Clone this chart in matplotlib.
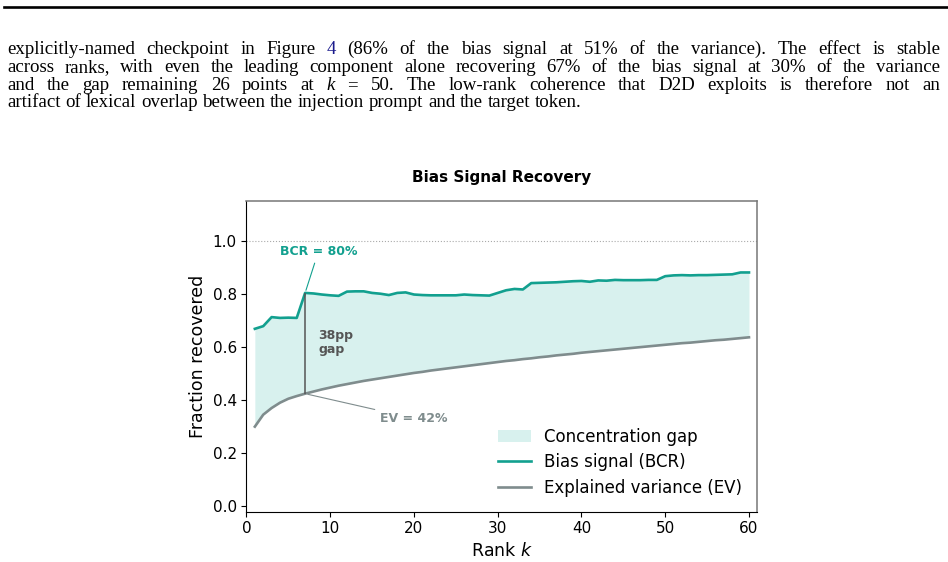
import matplotlib
matplotlib.use("Agg")
import matplotlib.pyplot as plt
from matplotlib.lines import Line2D

# ---------------------------------------------------------------------
# Data
# ---------------------------------------------------------------------
rank_k = list(range(1, 61))

bcr = [0.668, 0.678, 0.712, 0.709, 0.710, 0.709, 0.803, 0.801, 0.797, 0.794,
       0.792, 0.808, 0.809, 0.809, 0.803, 0.800, 0.795, 0.803, 0.805, 0.797,
       0.795, 0.794, 0.794, 0.794, 0.794, 0.797, 0.795, 0.794, 0.793, 0.803,
       0.813, 0.818, 0.816, 0.840, 0.841, 0.842, 0.843, 0.845, 0.847, 0.848,
       0.845, 0.850, 0.849, 0.852, 0.851, 0.851, 0.851, 0.852, 0.852, 0.866,
       0.869, 0.870, 0.869, 0.870, 0.870, 0.871, 0.872, 0.873, 0.880, 0.880]

ev = [0.300, 0.345, 0.370, 0.390, 0.405, 0.415, 0.424, 0.432, 0.440, 0.447,
      0.454, 0.460, 0.466, 0.472, 0.477, 0.482, 0.487, 0.492, 0.497, 0.502,
      0.506, 0.511, 0.515, 0.519, 0.523, 0.527, 0.531, 0.535, 0.539, 0.543,
      0.547, 0.550, 0.554, 0.557, 0.561, 0.564, 0.568, 0.571, 0.574, 0.578,
      0.581, 0.584, 0.587, 0.590, 0.593, 0.596, 0.599, 0.602, 0.605, 0.608,
      0.611, 0.614, 0.616, 0.619, 0.622, 0.625, 0.627, 0.630, 0.633, 0.636]

highlight_k = 7
x_ticks = [0, 10, 20, 30, 40, 50, 60]
y_ticks = [0.0, 0.2, 0.4, 0.6, 0.8, 1.0]

paragraph = [
    "explicitly-named checkpoint in Figure 4 (86% of the bias signal at 51% of the variance). The effect is stable",
    "across ranks, with even the leading component alone recovering 67% of the bias signal at 30% of the variance",
    "and the gap remaining 26 points at k = 50. The low-rank coherence that D2D exploits is therefore not an",
    "artifact of lexical overlap between the injection prompt and the target token.",
]

# Colours
TEAL = "#12a08f"
FILL = "#d8f1ee"
GRAY = "#7f8c8d"
DARK = "#555555"
LINK = "#1a1a8c"

W, H = 948, 562
fig = plt.figure(figsize=(W / 100, H / 100), dpi=100)
renderer = fig.canvas.get_renderer()

# ---------------------------------------------------------------------
# Page header rule + justified paragraph
# ---------------------------------------------------------------------
fig.add_artist(Line2D([4 / W, 1.0], [1 - 7 / H, 1 - 7 / H],
                      transform=fig.transFigure, color="black", lw=1.9))

TEXT_FONT = dict(family="Liberation Serif", size=13.6)
LEFT, RIGHT = 7, 940
baselines = [54.3, 72.3, 90.0, 107.3]


def measure(s, **kw):
    t = fig.text(0, 0, s, **TEXT_FONT, **kw)
    w = t.get_window_extent(renderer).width
    t.remove()
    return w


space_w = measure("a a") - measure("aa")

for i, line in enumerate(paragraph):
    words = line.split(" ")
    styles = []
    for w in words:
        kw = {}
        if i == 0 and w == "4":
            kw["color"] = LINK
        if i == 2 and w == "k":
            kw["style"] = "italic"
        styles.append(kw)
    widths = [measure(w, **kw) for w, kw in zip(words, styles)]
    if i < len(paragraph) - 1:
        gap = (RIGHT - LEFT - sum(widths)) / (len(words) - 1)
    else:
        gap = space_w
    x = LEFT
    for w, kw, wd in zip(words, styles, widths):
        fig.text(x / W, 1 - baselines[i] / H, w, va="baseline", ha="left",
                 **TEXT_FONT, **kw)
        x += wd + gap

# ---------------------------------------------------------------------
# Chart
# ---------------------------------------------------------------------
ax = fig.add_axes([0.260, 0.0895, 0.5389, 0.5534])

ax.fill_between(rank_k, ev, bcr, color=FILL, lw=0, label="Concentration gap")
ax.plot(rank_k, bcr, color=TEAL, lw=1.9, label="Bias signal (BCR)")
ax.plot(rank_k, ev, color=GRAY, lw=1.9, label="Explained variance (EV)")
ax.axhline(1.0, color="#aaaaaa", ls=":", lw=0.8, zorder=1)

i7 = rank_k.index(highlight_k)
ax.vlines(highlight_k, ev[i7], bcr[i7], color=DARK, lw=1.1, zorder=3)

ax.annotate(f"BCR = {bcr[i7]:.0%}",
            xy=(highlight_k, bcr[i7]), xytext=(8.6, 0.96),
            ha="center", va="center", fontsize=9, fontweight="bold", color=TEAL,
            arrowprops=dict(arrowstyle="-", color=TEAL, lw=0.8))
ax.annotate(f"EV = {ev[i7]:.0%}",
            xy=(highlight_k, ev[i7]), xytext=(20.0, 0.331),
            ha="center", va="center", fontsize=9, fontweight="bold", color=GRAY,
            arrowprops=dict(arrowstyle="-", color=GRAY, lw=0.8))
ax.text(8.6, 0.617, f"{round((bcr[i7] - ev[i7]) * 100)}pp\ngap",
        ha="left", va="center", fontsize=9, fontweight="bold", color=DARK,
        linespacing=1.1)

ax.set_xlim(0, 61)
ax.set_ylim(-0.02, 1.15)
ax.set_xticks(x_ticks)
ax.set_yticks(y_ticks)
ax.tick_params(labelsize=11)
ax.set_xlabel("Rank $k$", fontsize=12.5)
ax.set_ylabel("Fraction recovered", fontsize=12.5)
ax.set_title("Bias Signal Recovery", fontsize=11, fontweight="bold", pad=13.5)

for side in ("top", "right"):
    ax.spines[side].set_color("#777777")
    ax.spines[side].set_linewidth(1.1)

ax.legend(loc="lower right", frameon=False, fontsize=12, labelspacing=0.45)

fig.savefig("out.png", dpi=100)
